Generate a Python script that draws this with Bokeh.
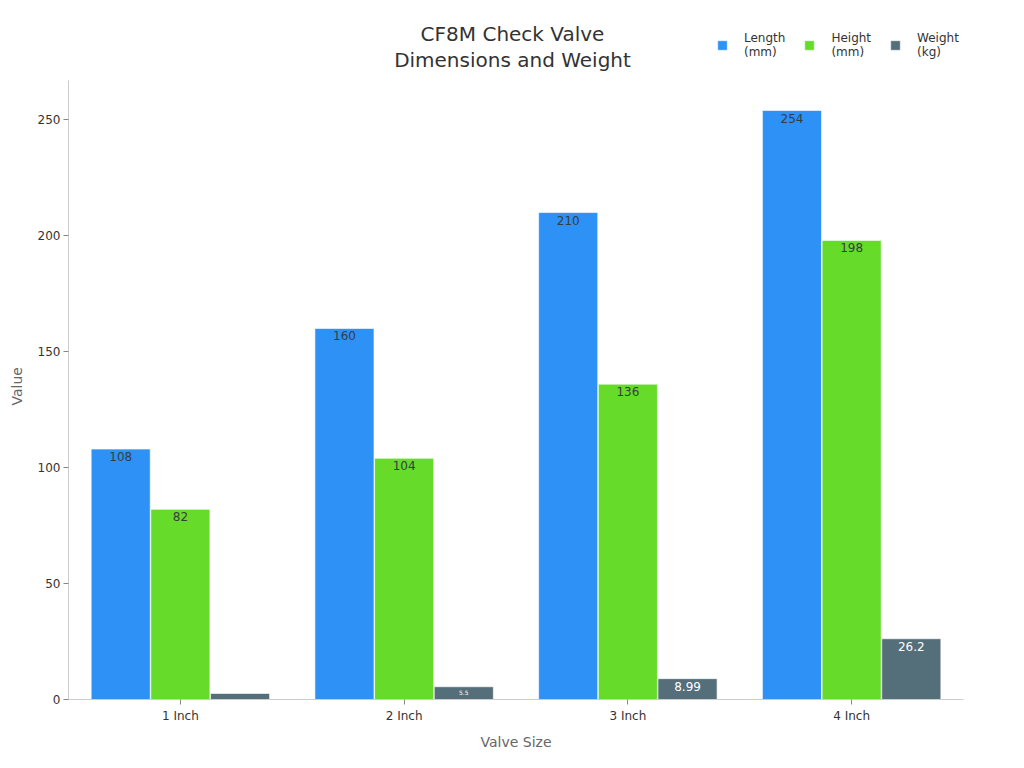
from bokeh.plotting import figure
from bokeh.models import FactorRange, Range1d, Legend, LegendItem, ColumnDataSource, FixedTicker, Label, Title
from bokeh.transform import dodge
from bokeh.core.properties import value
from bokeh.embed import file_html
from bokeh.resources import INLINE

categories = ["1 Inch", "2 Inch", "3 Inch", "4 Inch"]
length_mm = [108, 160, 210, 254]
height_mm = [82, 104, 136, 198]
weight_kg = [2.6, 5.5, 8.99, 26.2]
length_labels = ["108", "160", "210", "254"]
height_labels = ["82", "104", "136", "198"]
weight_labels = ["", "5.5", "8.99", "26.2"]
weight_label_sizes = ["12px", "6px", "12px", "12px"]
series_names = ["Length\n(mm)", "Height\n(mm)", "Weight\n(kg)"]
colors = ["#2E91F6", "#66DB29", "#546E7A"]
y_ticks = [0, 50, 100, 150, 200, 250]
title_lines = ["CF8M Check Valve", "Dimensions and Weight"]
y_axis_title = "Value"
x_axis_title = "Valve Size"

FONT = "DejaVu Sans"

# layout geometry (pixels)
FRAME_H = 700          # frame spans whole height above x-axis
AXIS_TOP_PX = 80       # where the value axis should end (from top)
Y_MAX = 267            # value at the top of the value axis
y_end = Y_MAX * FRAME_H / (FRAME_H - AXIS_TOP_PX)
scale = (FRAME_H - AXIS_TOP_PX) / Y_MAX


def px_to_y(py):
    return (FRAME_H - py) / scale


src = ColumnDataSource(dict(
    cat=categories, length=length_mm, height=height_mm, weight=weight_kg,
    llab=length_labels, hlab=height_labels, wlab=weight_labels, wsize=weight_label_sizes,
))

p = figure(
    title=None,
    x_range=FactorRange(*categories, range_padding=0),
    y_range=Range1d(0, y_end),
    width=1008, height=752,
    min_border_left=68, min_border_right=45, min_border_top=0, min_border_bottom=52,
    output_backend="svg", toolbar_location=None,
)
p.outline_line_color = None
p.background_fill_color = "white"
p.border_fill_color = "white"

bw = 0.264
offs = [-0.2667, 0.0, 0.2667]
fields = ["length", "height", "weight"]
renderers = []
for f, o, c in zip(fields, offs, colors):
    r = p.vbar(x=dodge("cat", o, range=p.x_range), top=f, width=bw, source=src,
               fill_color=c, line_color="white", line_alpha=0.6, line_width=1)
    renderers.append(r)

p.text(x=dodge("cat", offs[0], range=p.x_range), y="length", text="llab", source=src,
       text_align="center", text_baseline="top", y_offset=3,
       text_font=value(FONT), text_font_size="12px", text_color="#373d3f")
p.text(x=dodge("cat", offs[1], range=p.x_range), y="height", text="hlab", source=src,
       text_align="center", text_baseline="top", y_offset=3,
       text_font=value(FONT), text_font_size="12px", text_color="#373d3f")
p.text(x=dodge("cat", offs[2], range=p.x_range), y="weight", text="wlab", source=src,
       text_align="center", text_baseline="top", y_offset=3,
       text_font=value(FONT), text_font_size="wsize", text_color="white")

# Grid
p.xgrid.grid_line_color = None
p.ygrid.grid_line_color = None

# Axes
for ax in (p.xaxis[0], p.yaxis[0]):
    ax.axis_line_color = "#cccccc"
    ax.major_tick_line_color = "#888888"
    ax.major_tick_out = 5
    ax.major_tick_in = 0
    ax.minor_tick_line_color = None
    ax.major_label_text_font = FONT
    ax.major_label_text_font_size = "12px"
    ax.major_label_text_color = "#333333"
    ax.axis_label_text_font = FONT
    ax.axis_label_text_font_size = "14px"
    ax.axis_label_text_font_style = "normal"
    ax.axis_label_text_color = "#666666"

p.yaxis[0].ticker = FixedTicker(ticks=y_ticks)
p.yaxis[0].bounds = (0, Y_MAX)
p.yaxis[0].major_label_standoff = 3
p.xaxis[0].axis_label = x_axis_title
p.xaxis[0].major_label_standoff = 4
p.xaxis[0].axis_label_standoff = 8

# value-axis title, positioned along the drawn axis (offset measured from the bottom)
p.add_layout(Title(text=y_axis_title, align="left", offset=294, standoff=16,
                   vertical_align="top",
                   text_font=FONT, text_font_size="14px", text_font_style="normal",
                   text_color="#666666"), "left")

# Title lines, centred
title_x = 2.0 - 3.5 / 223.75
for txt, py in zip(title_lines, [34, 60]):
    p.add_layout(Label(x=title_x, y=px_to_y(py), text=txt, text_align="center",
                       text_baseline="middle", text_font=FONT, text_font_size="20px",
                       text_color="#333333"))

legend = Legend(
    items=[LegendItem(label=n, renderers=[r]) for n, r in zip(series_names, renderers)],
    orientation="horizontal",
    location=(648, 640),
    background_fill_alpha=0,
    border_line_color=None,
    label_text_font=FONT,
    label_text_font_size="12px",
    label_text_color="#333333",
    glyph_width=12, glyph_height=12,
    spacing=18, padding=2, label_standoff=16,
)
p.add_layout(legend, "center")

open("out.html", "w").write(file_html(p, INLINE))
